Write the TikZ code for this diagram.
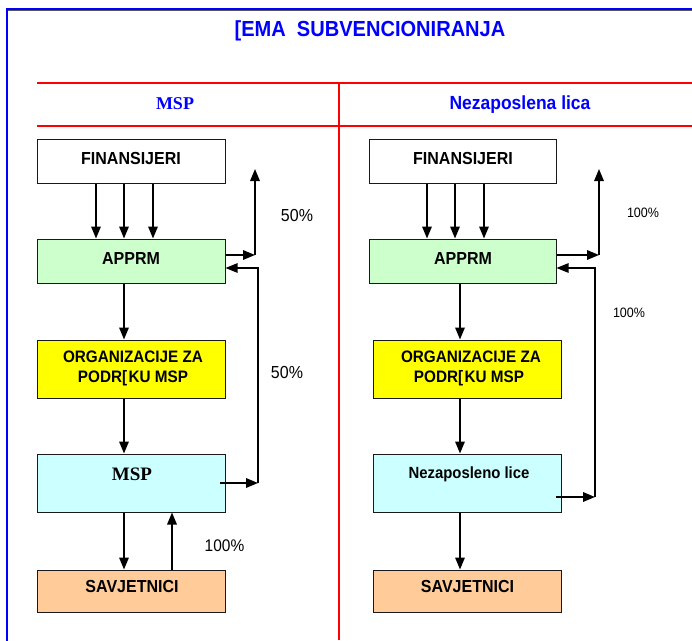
\documentclass[tikz,border=0pt]{standalone}
\usepackage{fontspec}
\setmainfont{Liberation Sans}
\newfontfamily\condsans[FakeStretch=0.92]{Liberation Sans}
\newfontfamily\timesfont{Liberation Serif}
\usetikzlibrary{arrows.meta}

\definecolor{boxgreen}{HTML}{CCFFCC}
\definecolor{boxyellow}{HTML}{FFFF00}
\definecolor{boxcyan}{HTML}{CCFFFF}
\definecolor{boxorange}{HTML}{FFCC99}
\definecolor{framegray}{HTML}{555555}

\begin{document}
\begin{tikzpicture}[x=1pt, y=-1pt,
  box/.style={draw=black!90, line width=1pt, inner sep=0pt},
  lbl/.style={anchor=base, inner sep=0pt, font=\condsans\bfseries\fontsize{17.4}{17.4}\selectfont},
  lblorg/.style={anchor=base, inner sep=0pt, font=\condsans\bfseries\fontsize{16.6}{16.6}\selectfont},
  pct/.style={anchor=base, inner sep=0pt, font=\condsans\fontsize{17.4}{17.4}\selectfont},
  pctsmall/.style={anchor=base, inner sep=0pt, font=\condsans\fontsize{13.6}{13.6}\selectfont},
  flow/.style={line width=1.7pt, -{Triangle[length=12pt,width=9.5pt]}},
  back/.style={line width=1.1pt, -{Triangle[length=12pt,width=9.5pt]}}
]
\useasboundingbox (0,0) rectangle (692,640);
\fill[white] (0,0) rectangle (692,640);

% outer frame, open to the right and bottom
\draw[framegray, line width=1pt] (8,10.5) -- (700,10.5);
\draw[blue, line width=2pt] (7,650) -- (7,9) -- (700,9);

% title
\node[anchor=base, inner sep=0pt, text=blue,
      font=\condsans\bfseries\fontsize{21.8}{21.8}\selectfont] (title) at (370,36.5)
      {[EMA\ \ SUBVENCIONIRANJA};

% column grid
\draw[red, line width=1.6pt] (37,83) -- (692,83);
\draw[red, line width=1.6pt] (37,126) -- (692,126);
\draw[red, line width=1.6pt] (339,83) -- (339,640);

% column headings
\node[anchor=base, inner sep=0pt, text=blue,
      font=\timesfont\bfseries\fontsize{18}{18}\selectfont] (hmsp) at (175,109) {MSP};
\node[anchor=base, inner sep=0pt, text=blue,
      font=\condsans\bfseries\fontsize{19}{19}\selectfont] (hnez) at (520,109.5) {Nezaposlena lica};

% ---------- left column: MSP ----------
\node[box, fill=white,      minimum width=188pt, minimum height=44pt] (lfin) at (131,161) {};
\node[box, fill=boxgreen,   minimum width=188pt, minimum height=44pt] (lapp) at (131,261) {};
\node[box, fill=boxyellow,  minimum width=188pt, minimum height=58pt] (lorg) at (131,369) {};
\node[box, fill=boxcyan,    minimum width=188pt, minimum height=58pt] (lmsp) at (131,483) {};
\node[box, fill=boxorange,  minimum width=188pt, minimum height=42pt] (lsav) at (131,591) {};

\node[lbl] (lfint) at (131,164) {FINANSIJERI};
\node[lbl] (lappt) at (131,264) {APPRM};
\node[lblorg] (lorgt1) at (133,362.5) {ORGANIZACIJE ZA};
\node[lblorg] (lorgt2) at (133,382.5) {PODR[\kern1.5pt KU MSP};
\node[anchor=base, inner sep=0pt, font=\timesfont\bfseries\fontsize{19}{19}\selectfont]
      (lmspt) at (132,480) {MSP};
\node[lbl] (lsavt) at (132,592) {SAVJETNICI};

% funding into the agency
\draw[flow] ([xshift=-35pt]lfin.south) -- ([xshift=-35pt]lapp.north);
\draw[flow] ([xshift=-7pt]lfin.south)  -- ([xshift=-7pt]lapp.north);
\draw[flow] ([xshift=22pt]lfin.south)  -- ([xshift=22pt]lapp.north);

% main chain
\draw[flow] ([xshift=-7pt]lapp.south) -- ([xshift=-7pt]lorg.north);
\draw[flow] ([xshift=-7pt]lorg.south) -- ([xshift=-7pt]lmsp.north);
\draw[flow] ([xshift=-7pt]lmsp.south) -- ([xshift=-7pt]lsav.north);
\draw[flow] ([xshift=41pt]lsav.north) -- ([xshift=41pt]lmsp.south);

% 50% out of the agency, 50% back from MSP
\coordinate (lout) at (255,255);
\coordinate (ltop) at (255,169);
\coordinate (lret) at (258,268);
\coordinate (lin)  at (258,483);
\draw[flow] ([yshift=6pt]lapp.east) -- (lout);
\draw[flow] (lout) -- (ltop);
\draw[flow] ([xshift=-6pt]lmsp.east) -- (lin);
\draw[back] (lin) -- (lret) -- ([yshift=-7pt]lapp.east);

\node[pct] (lp1) at (297,221) {50\%};
\node[pct] (lp2) at (287,378) {50\%};
\node[anchor=base, inner sep=0pt, font=\condsans\fontsize{16.8}{16.8}\selectfont] (lp3) at (224.5,551) {100\%};

% ---------- right column: unemployed ----------
\node[box, fill=white,      minimum width=187pt, minimum height=44pt] (rfin) at (462.5,161) {};
\node[box, fill=boxgreen,   minimum width=187pt, minimum height=44pt] (rapp) at (462.5,261) {};
\node[box, fill=boxyellow,  minimum width=188pt, minimum height=58pt] (rorg) at (467,369) {};
\node[box, fill=boxcyan,    minimum width=188pt, minimum height=58pt] (rnez) at (467,483) {};
\node[box, fill=boxorange,  minimum width=188pt, minimum height=42pt] (rsav) at (467,591) {};

\node[lbl] (rfint) at (463,164) {FINANSIJERI};
\node[lbl] (rappt) at (463,264) {APPRM};
\node[lblorg] (rorgt1) at (471,362.5) {ORGANIZACIJE ZA};
\node[lblorg] (rorgt2) at (469,382.5) {PODR[\kern1.5pt KU MSP};
\node[anchor=base, inner sep=0pt, font=\condsans\bfseries\fontsize{16.2}{16.2}\selectfont]
      (rnezt) at (469,478) {Nezaposleno lice};
\node[lbl] (rsavt) at (467.5,592) {SAVJETNICI};

\draw[flow] ([xshift=-35.5pt]rfin.south) -- ([xshift=-35.5pt]rapp.north);
\draw[flow] ([xshift=-7.5pt]rfin.south)  -- ([xshift=-7.5pt]rapp.north);
\draw[flow] ([xshift=21.5pt]rfin.south)  -- ([xshift=21.5pt]rapp.north);

\draw[flow] ([xshift=-2.5pt]rapp.south) -- ([xshift=-7pt]rorg.north);
\draw[flow] ([xshift=-7pt]rorg.south) -- ([xshift=-7pt]rnez.north);
\draw[flow] ([xshift=-7pt]rnez.south) -- ([xshift=-7pt]rsav.north);

% 100% out of the agency, 100% back from the unemployed
\coordinate (rout) at (599,255);
\coordinate (rtop) at (599,169);
\coordinate (rret) at (595,268);
\coordinate (rin)  at (595,497);
\draw[flow] ([yshift=6pt]rapp.east) -- (rout);
\draw[flow] (rout) -- (rtop);
\draw[flow] ([xshift=-6pt,yshift=-14pt]rnez.east) -- (rin);
\draw[back] (rin) -- (rret) -- ([yshift=-7pt]rapp.east);

\node[pctsmall] (rp1) at (643,217) {100\%};
\node[pctsmall] (rp2) at (629,317) {100\%};
\end{tikzpicture}
\end{document}
